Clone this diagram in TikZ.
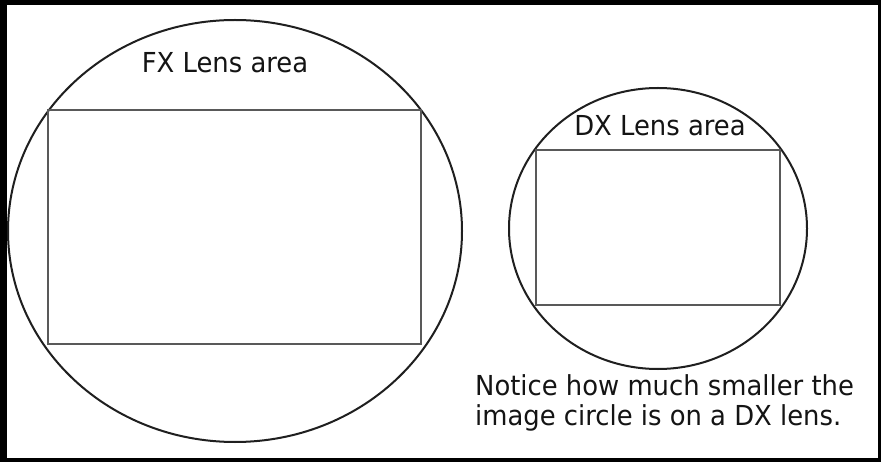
\documentclass[tikz,border=0pt]{standalone}
\usepackage{fontspec}
\setmainfont{DejaVu Sans}
\newfontfamily\capfont[FakeStretch=0.94]{DejaVu Sans}
\usetikzlibrary{positioning}

\begin{document}
\begin{tikzpicture}[
    x=1pt, y=-1pt,
    circ/.style={
        line width=2pt,
        draw=black!88
    },
    sensor/.style={
        line width=2pt,
        draw=black!65
    },
    caption/.style={
        font=\capfont\fontsize{27.5}{30}\selectfont,
        inner sep=0pt,
        text=black!92
    }
]
    \useasboundingbox (0,0) rectangle (881,462);

    % --- outer frame ---
    \fill[black] (0,0) rectangle (881,462);
    \fill[white] (7,5) rectangle (878,458);

    % --- FX image circle and sensor ---
    \draw[circ] (235,231) ellipse [x radius=227pt, y radius=211pt];
    \draw[sensor] (48,110) rectangle (421,344);
    \node[caption, anchor=base] (fxlabel) at (225,73) {FX Lens area};

    % --- DX image circle and sensor ---
    \draw[circ] (658,228.5) ellipse [x radius=149pt, y radius=140.5pt];
    \draw[sensor] (536,150) rectangle (780,305);
    \node[caption, anchor=base] (dxlabel) at (660,136) {DX Lens area};

    % --- note ---
    \node[caption, anchor=base west] (note) at (475,395)
        {Notice how much smaller the};
    \node[caption, anchor=base west] (note2) at (475,425)
        {image circle is on a DX lens.};

\end{tikzpicture}
\end{document}
